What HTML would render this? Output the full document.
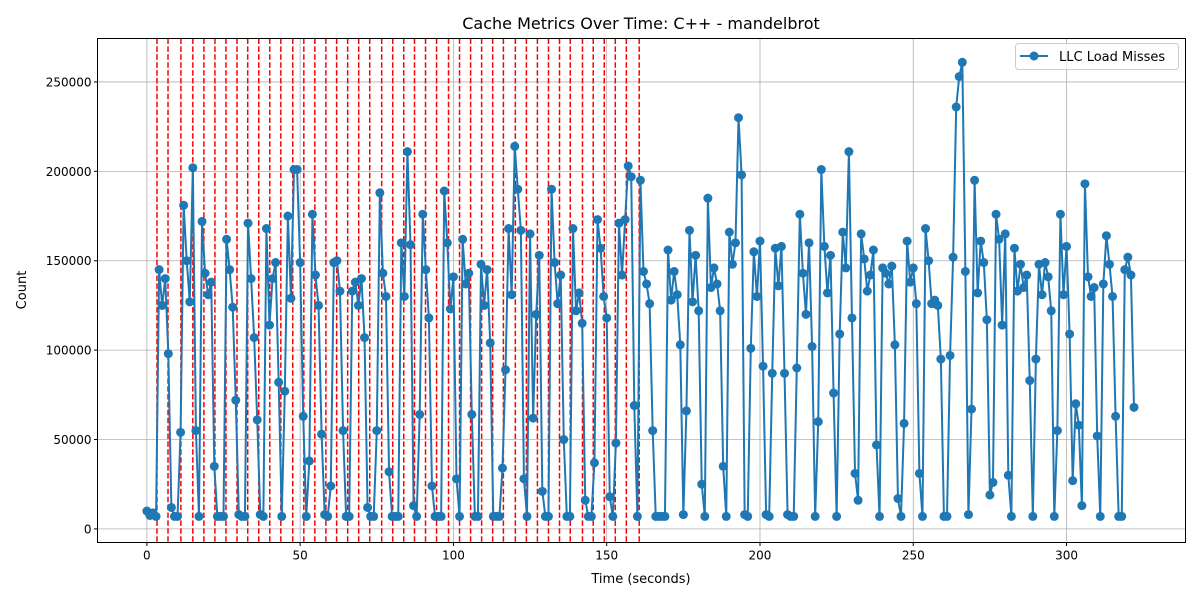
<!DOCTYPE html>
<html><head><meta charset="utf-8"><style>
body{margin:0;background:#fff;}
svg{font-family:"DejaVu Sans","Liberation Sans",sans-serif;}
</style></head><body>
<svg id="chart" width="1200" height="600">
<rect width="1200" height="600" fill="#fff"/>
<text x="641" y="29" font-size="16" text-anchor="middle">Cache Metrics Over Time: C++ - mandelbrot</text>
<g id="grid"></g>
<g id="events"></g>
<g id="series"></g>
<rect x="97.5" y="38.5" width="1088" height="504" fill="none" stroke="#000" stroke-width="1"/>
<g id="axes"></g>
<text x="641" y="583" font-size="13" text-anchor="middle">Time (seconds)</text>
<text x="26" y="290" font-size="13" text-anchor="middle" transform="rotate(-90 26 290)">Count</text>
<g>
<rect x="1015.5" y="43.5" width="163" height="26" rx="3" fill="#fff" fill-opacity="0.8" stroke="#ccc"/>
<line x1="1020" y1="56" x2="1048" y2="56" stroke="#1f77b4" stroke-width="2"/>
<circle cx="1034" cy="56" r="4.5" fill="#1f77b4"/>
<text x="1059" y="61" font-size="13">LLC Load Misses</text>
</g>
</svg>
<script>
const xTicks=[0,50,100,150,200,250,300];
const yTicks=[0,50000,100000,150000,200000,250000];
const yTickLabels=["0","50000","100000","150000","200000","250000"];
const eventTimes=[3.3,6.9,11.1,15.0,18.6,22.2,25.8,29.4,32.9,36.5,40.1,43.7,47.6,51.2,54.8,58.4,61.9,65.5,69.1,72.7,76.6,80.2,83.8,87.3,90.9,94.5,98.4,102.0,105.6,109.2,112.8,116.3,120.2,123.8,127.4,131.0,134.6,138.1,142.1,145.6,149.2,152.8,156.4,160.6];
const counts=[10000,7500,9000,7000,
145000,125000,140000,98000,12000,7000,7000,
54000,181000,150000,127000,202000,55000,7000,
172000,143000,131000,138000,35000,7000,7000,7000,
162000,145000,124000,72000,8000,7000,7000,
171000,140000,107000,61000,8000,7000,
168000,114000,140000,149000,82000,7000,
77000,175000,129000,201000,201000,149000,63000,7000,
38000,176000,142000,125000,53000,8000,7000,
24000,149000,150000,133000,55000,7000,7000,
133000,138000,125000,140000,107000,12000,7000,7000,
55000,188000,143000,130000,32000,7000,7000,
7000,160000,130000,211000,159000,13000,7000,
64000,176000,145000,118000,24000,7000,7000,7000,
189000,160000,123000,141000,28000,7000,
162000,137000,143000,64000,7000,7000,
148000,125000,145000,104000,7000,7000,7000,
34000,89000,168000,131000,214000,190000,167000,28000,7000,
165000,62000,120000,153000,21000,7000,7000,
190000,149000,126000,142000,50000,7000,7000,
168000,122000,132000,115000,16000,7000,7000,
37000,173000,157000,130000,118000,18000,7000,
48000,171000,142000,173000,203000,197000,69000,7000,
195000,144000,137000,126000,55000,7000,7000,7000,7000,
156000,128000,144000,131000,103000,8000,
66000,167000,127000,153000,122000,25000,7000,
185000,135000,146000,137000,122000,35000,7000,
166000,148000,160000,230000,198000,8000,7000,
101000,155000,130000,161000,91000,8000,7000,
87000,157000,136000,158000,87000,8000,7000,7000,
90000,176000,143000,120000,160000,102000,7000,
60000,201000,158000,132000,153000,76000,7000,
109000,166000,146000,211000,118000,31000,16000,
165000,151000,133000,142000,156000,47000,7000,
146000,143000,137000,147000,103000,17000,7000,
59000,161000,138000,146000,126000,31000,7000,
168000,150000,126000,128000,125000,95000,7000,7000,
97000,152000,236000,253000,261000,144000,8000,
67000,195000,132000,161000,149000,117000,19000,
26000,176000,162000,114000,165000,30000,7000,
157000,133000,148000,135000,142000,83000,7000,
95000,148000,131000,149000,141000,122000,7000,
55000,176000,131000,158000,109000,27000,70000,58000,
13000,193000,141000,130000,135000,52000,7000,
137000,164000,148000,130000,63000,7000,7000,
145000,152000,142000,68000];
const timeStep=1;

const NS="http://www.w3.org/2000/svg";
const L=97.5,R=1185.5,T=38.5,B=542.5;
const xMin=-16.1,xMax=338.8,yMin=-7600,yMax=274300;
const sx=v=>L+(v-xMin)/(xMax-xMin)*(R-L);
const sy=v=>B-(v-yMin)/(yMax-yMin)*(B-T);
function mk(tag,attrs,parent){const e=document.createElementNS(NS,tag);for(const k in attrs)e.setAttribute(k,attrs[k]);parent.appendChild(e);return e;}
const grid=document.getElementById('grid'),axes=document.getElementById('axes'),ev=document.getElementById('events'),ser=document.getElementById('series');
xTicks.forEach(t=>{const x=sx(t);
 const g=mk('line',{x1:x,x2:x,y1:T,y2:B,stroke:'#b0b0b0','stroke-width':0.8},grid);
 
 
 const tk=mk('line',{x1:x,x2:x,y1:B,y2:B+3.5,stroke:'#000'},axes);
 
 
 const lb=mk('text',{x:x,y:B+17,'font-size':12,'text-anchor':'middle'},axes);lb.textContent=t;
 
 
});
yTicks.forEach((t,i)=>{const y=sy(t);
 const g=mk('line',{x1:L,x2:R,y1:y,y2:y,stroke:'#b0b0b0','stroke-width':0.8},grid);
 
 
 const tk=mk('line',{x1:L-3.5,x2:L,y1:y,y2:y,stroke:'#000'},axes);
 
 
 const lb=mk('text',{x:L-6,y:y+4.5,'font-size':12,'text-anchor':'end'},axes);lb.textContent=yTickLabels[i];
 
 
});
eventTimes.forEach(t=>{const x=sx(t);
 const l=mk('line',{x1:x,x2:x,y1:T,y2:B,stroke:'#ff0000','stroke-width':1.5,'stroke-dasharray':'5.5,2.4'},ev);
 
 
});
const pts=counts.map((v,i)=>[sx(i*timeStep),sy(v)]);
const pl=mk('polyline',{points:pts.map(p=>p.join(',')).join(' '),fill:'none',stroke:'#1f77b4','stroke-width':2,'stroke-linejoin':'round'},ser);


pts.forEach(p=>{const c=mk('circle',{cx:p[0],cy:p[1],r:4.5,fill:'#1f77b4'},ser);
 
 
});
</script>
</body></html>
